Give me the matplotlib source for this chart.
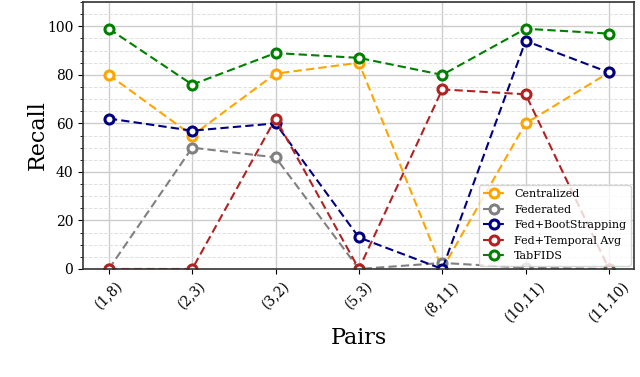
import matplotlib
matplotlib.use("Agg")
import matplotlib.pyplot as plt
from matplotlib.ticker import MultipleLocator

plt.rcParams['font.family'] = ['DejaVu Serif']

pairs = ["(1,8)", "(2,3)", "(3,2)", "(5,3)", "(8,11)", "(10,11)", "(11,10)"]
centralized = [80, 55, 80.5, 85, 0, 60, 81]
federated = [0, 50, 46, 0, 2.5, 0.5, 0]
fed_boot = [62, 57, 60, 13, 0, 94, 81]
fed_temporal = [0, 0, 62, 0, 74, 72, 0]
tabfids = [99, 76, 89, 87, 80, 99, 97]

series = [
    ("Centralized", centralized, "orange"),
    ("Federated", federated, "grey"),
    ("Fed+BootStrapping", fed_boot, "navy"),
    ("Fed+Temporal Avg", fed_temporal, "firebrick"),
    ("TabFIDS", tabfids, "green"),
]

fig = plt.figure(figsize=(6.4, 3.77), dpi=100)
ax = fig.add_axes([0.1297, 0.2865, 0.8609, 0.708])
x = list(range(len(pairs)))
for name, vals, col in series:
    ax.plot(x, vals, linestyle=(0, (4, 2)), color=col, linewidth=1.5, marker="o",
            markersize=6.5, markerfacecolor="white", markeredgecolor=col,
            markeredgewidth=2.2, label=name)

ax.set_xlim(-0.31, 6.3)
ax.set_ylim(0, 110)
ax.set_xticks(x)
ax.set_xticklabels(pairs, rotation=45, fontsize=10)
ax.yaxis.set_major_locator(MultipleLocator(20))
ax.yaxis.set_minor_locator(MultipleLocator(5))
ax.tick_params(axis='y', labelsize=10)
ax.grid(True, which='major', color='#cccccc', linewidth=1.0)
ax.grid(True, which='minor', axis='y', color='#e0e0e0', linestyle='--', linewidth=0.7)
ax.set_axisbelow(True)
for s in ax.spines.values():
    s.set_color('#333333')
    s.set_linewidth(1.2)
ax.set_ylabel("Recall", fontsize=16, labelpad=-1)
ax.set_xlabel("Pairs", fontsize=16, labelpad=2)
ax.legend(loc="lower right", fontsize=8, framealpha=0.8, borderaxespad=0.3,
          handlelength=2.0)

fig.savefig("out.png", dpi=100)
